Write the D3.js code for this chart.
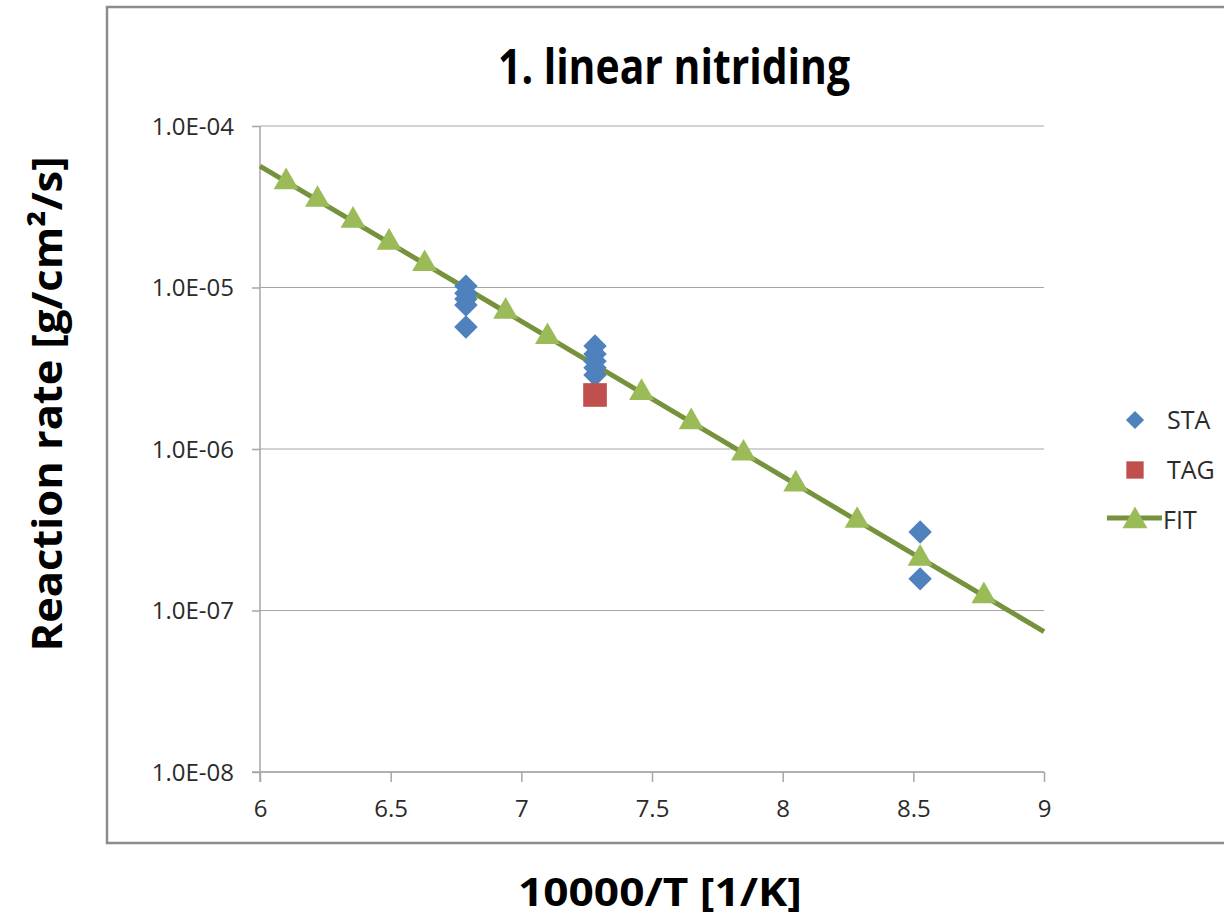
<!DOCTYPE html>
<html>
<head>
    <meta charset="utf-8">
    <title>1. linear nitriding</title>
    <script src="https://d3js.org/d3.v7.min.js"></script>
    <style>
        body { margin: 0; background: #fff; }
        text { font-family: "Open Sans", "DejaVu Sans", sans-serif; }
    </style>
</head>
<body>
    <svg width="1224" height="919"></svg>
    <script>
        // Data
        const staX = [6.788, 6.788, 6.788, 6.788, 6.788, 7.282, 7.282, 7.282, 7.282, 7.282, 8.526, 8.526];
        const staY = [1.02e-5, 9.2e-6, 8.5e-6, 7.8e-6, 5.7e-6, 4.35e-6, 3.87e-6, 3.5e-6, 3.18e-6, 2.87e-6, 3.06e-7, 1.57e-7];
        const tagX = [7.282];
        const tagY = [2.16e-6];
        const fitX = [6.10, 6.22, 6.356, 6.494, 6.63, 6.94, 7.10, 7.46, 7.65, 7.85, 8.05, 8.285, 8.526, 8.77];
        const fitY = [4.5e-5, 3.5e-5, 2.6e-5, 1.9e-5, 1.4e-5, 7.1e-6, 4.95e-6, 2.23e-6, 1.47e-6, 9.4e-7, 6.05e-7, 3.6e-7, 2.1e-7, 1.23e-7];
        const fitLineX = [6, 9];
        const fitLineY = [5.65e-5, 7.4e-8];
        const xTicks = [6, 6.5, 7, 7.5, 8, 8.5, 9];
        const yTicks = [1e-8, 1e-7, 1e-6, 1e-5, 1e-4];
        const yTickLabels = ["1.0E-08", "1.0E-07", "1.0E-06", "1.0E-05", "1.0E-04"];

        const svg = d3.select("svg");

        // chart frame (runs off the right edge)
        svg.append("rect")
            .attr("x", 107).attr("y", 7)
            .attr("width", 1130).attr("height", 836)
            .attr("fill", "none")
            .attr("stroke", "#8c8c8c")
            .attr("stroke-width", 2.5);

        const x = d3.scaleLinear().domain([6, 9]).range([260, 1044]);
        const y = d3.scaleLog().domain([1e-8, 1e-4]).range([772, 126]);

        // gridlines
        svg.append("g")
            .selectAll("line")
            .data(yTicks)
            .join("line")
            .attr("x1", x(6)).attr("x2", x(9))
            .attr("y1", d => y(d)).attr("y2", d => y(d))
            .attr("stroke", "#a6a6a6")
            .attr("stroke-width", 1.2);

        // y axis
        const yAxis = svg.append("g")
            .attr("transform", `translate(${x(6)},0)`)
            .call(d3.axisLeft(y).tickValues(yTicks).tickFormat((d, i) => yTickLabels[i]).tickSize(8).tickPadding(18));
        // x axis
        const xAxis = svg.append("g")
            .attr("transform", `translate(0,${y(1e-8)})`)
            .call(d3.axisBottom(x).tickValues(xTicks).tickFormat(d3.format("")).tickSize(10).tickPadding(16));

        [yAxis, xAxis].forEach(a => {
            a.attr("font-size", null).attr("font-family", null);
            a.select(".domain").attr("stroke", "#a6a6a6").attr("stroke-width", 1.5);
            a.selectAll(".tick line").attr("stroke", "#a6a6a6").attr("stroke-width", 1.5);
            a.selectAll(".tick text")
                .attr("fill", "#2b2b2b")
                .style("font-size", "24px");
        });
        yAxis.selectAll(".tick text").attr("dy", "0.34em");
        xAxis.selectAll(".tick text").attr("dy", "0.78em");
        yAxis.select(".domain").attr("d", `M0,${y(1e-8) + 10}V${y(1e-4)}`);
        xAxis.select(".domain").attr("d", `M${x(6) - 8},0H${x(9)}`);

        // FIT line
        const lineGen = d3.line().x(d => x(d[0])).y(d => y(d[1]));
        svg.append("path")
            .datum(fitLineX.map((v, i) => [v, fitLineY[i]]))
            .attr("d", lineGen)
            .attr("fill", "none")
            .attr("stroke", "#76923c")
            .attr("stroke-width", 5);

        const tri = d3.symbol().type(d3.symbolTriangle).size(270);
        svg.append("g")
            .selectAll("path")
            .data(fitX.map((v, i) => [v, fitY[i]]))
            .join("path")
            .attr("d", tri)
            .attr("transform", d => `translate(${x(d[0])},${y(d[1])})`)
            .attr("fill", "#9bbb59");

        // STA diamonds
        const dia = d3.symbol().type(d3.symbolSquare).size(275);
        svg.append("g")
            .selectAll("path")
            .data(staX.map((v, i) => [v, staY[i]]))
            .join("path")
            .attr("d", dia)
            .attr("transform", d => `translate(${x(d[0])},${y(d[1])}) rotate(45)`)
            .attr("fill", "#4f81bd");

        // TAG squares
        const sq = d3.symbol().type(d3.symbolSquare).size(560);
        svg.append("g")
            .selectAll("path")
            .data(tagX.map((v, i) => [v, tagY[i]]))
            .join("path")
            .attr("d", sq)
            .attr("transform", d => `translate(${x(d[0])},${y(d[1])})`)
            .attr("fill", "#c0504d");

        // title
        svg.append("text")
            .attr("x", 674).attr("y", 84)
            .attr("text-anchor", "middle")
            .attr("textLength", 352).attr("lengthAdjust", "spacingAndGlyphs")
            .style("font-size", "48px").style("font-weight", "bold")
            .attr("fill", "#000")
            .text("1. linear nitriding");

        // axis titles
        svg.append("text")
            .attr("x", 660).attr("y", 906)
            .attr("text-anchor", "middle")
            .attr("textLength", 284).attr("lengthAdjust", "spacingAndGlyphs")
            .style("font-size", "40px").style("font-weight", "bold")
            .text("10000/T [1/K]");
        svg.append("text")
            .attr("transform", "translate(62,404) rotate(-90)")
            .attr("text-anchor", "middle")
            .attr("textLength", 495).attr("lengthAdjust", "spacingAndGlyphs")
            .style("font-size", "42px").style("font-weight", "bold")
            .text("Reaction rate [g/cm²/s]");

        // legend
        const legDia = d3.symbol().type(d3.symbolSquare).size(165);
        const legSq = d3.symbol().type(d3.symbolSquare).size(300);
        const leg = svg.append("g");
        leg.append("path").attr("d", legDia).attr("transform", "translate(1135,420) rotate(45)").attr("fill", "#4f81bd");
        leg.append("path").attr("d", legSq).attr("transform", "translate(1135,470)").attr("fill", "#c0504d");
        leg.append("line").attr("x1", 1107).attr("x2", 1162).attr("y1", 518).attr("y2", 518)
            .attr("stroke", "#76923c").attr("stroke-width", 5);
        leg.append("path").attr("d", tri).attr("transform", "translate(1135,521)").attr("fill", "#9bbb59");
        leg.selectAll("text.lab")
            .data(["STA", "TAG", "FIT"])
            .join("text")
            .attr("class", "lab")
            .attr("x", (d, i) => i === 2 ? 1163 : 1167)
            .attr("y", (d, i) => 420 + i * 50)
            .attr("dy", "0.36em")
            .attr("fill", "#2b2b2b")
            .style("font-size", "25px")
            .text(d => d);
    </script>
</body>
</html>
